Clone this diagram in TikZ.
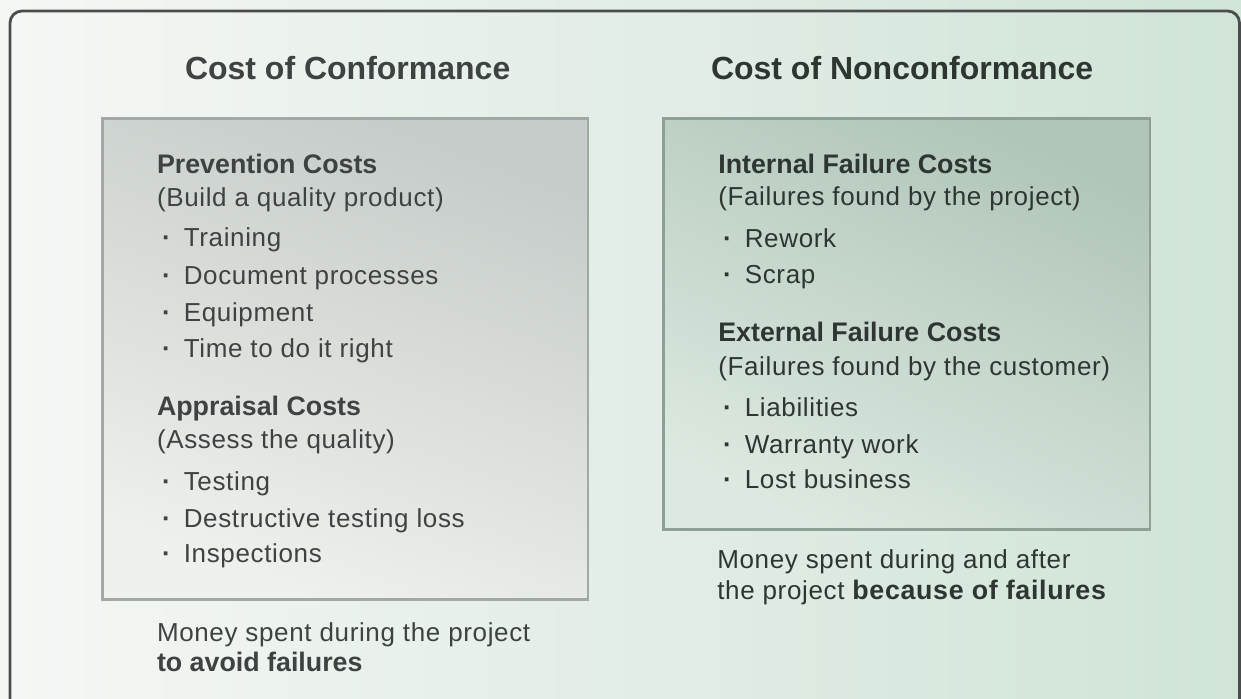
\documentclass[tikz,border=0pt]{standalone}
\usepackage{fontspec}
\setmainfont{Liberation Sans}
\newfontfamily\regfont[LetterSpace=2.5]{Liberation Sans}
\definecolor{bgL}{HTML}{F5F7F5}
\definecolor{bgR}{HTML}{D0E4D7}
\definecolor{frameC}{HTML}{4A4D4B}
\definecolor{lboxT}{HTML}{C6CCC9}
\definecolor{lboxB}{HTML}{EEF1EE}
\definecolor{lboxD}{HTML}{A2A8A5}
\definecolor{rboxT}{HTML}{B1C5B9}
\definecolor{rboxB}{HTML}{DCE9E0}
\definecolor{rboxD}{HTML}{8E9F95}
\definecolor{txtL}{HTML}{3E4240}
\definecolor{txtR}{HTML}{2D3631}
\newcommand{\itm}[1]{\makebox[10.9pt][l]{\bfseries\char"00B7}#1}
\tikzset{
  tx/.style={inner sep=0pt, outer sep=0pt, anchor=base west},
  headL/.style={tx, text=txtL, font=\fontsize{16}{19}\selectfont\bfseries},
  headR/.style={tx, text=txtR, font=\fontsize{16}{19}\selectfont\bfseries},
  subL/.style={tx, text=txtL, font=\fontsize{13.4}{16}\selectfont\bfseries},
  subR/.style={tx, text=txtR, font=\fontsize{13.4}{16}\selectfont\bfseries},
  regL/.style={tx, text=txtL, font=\fontsize{13}{16}\regfont},
  regR/.style={tx, text=txtR, font=\fontsize{13}{16}\regfont},
  frameline/.style={draw=frameC, line width=1.4pt, rounded corners=6pt},
}
\begin{document}
\begin{tikzpicture}[x=0.5pt,y=-0.5pt]
\useasboundingbox (0,0) rectangle (1241,699);
\clip (0,0) rectangle (1241,699);
% background
\shade[left color=bgL, right color=bgR] (0,0) rectangle (1241,699);
% outer frame
\draw[frameline] (10,11) rectangle (1239.5,760);
% boxes
\shade[top color=lboxT, bottom color=lboxB, shading angle=-20] (102.7,118.3) rectangle (588,599.3);
\draw[draw=lboxD, line width=1.3pt] (102.7,118.3) rectangle (588,599.3);
\shade[top color=rboxT, bottom color=rboxB, shading angle=-25] (663.3,118.3) rectangle (1150,529.3);
\draw[draw=rboxD, line width=1.3pt] (663.3,118.3) rectangle (1150,529.3);
% headings
\node[headL] (hl) at (185,80) {Cost of Conformance};
\node[headR] (hr) at (711,80) {Cost of Nonconformance};
% left box
\node[subL] (pc) at (157,173.3) {Prevention Costs};
\node[regL] (pcd) at (157,207) {(Build a quality product)};
\node[regL] (pc1) at (162,246.7) {\itm{Training}};
\node[regL] (pc2) at (162,284.5) {\itm{Document processes}};
\node[regL] (pc3) at (162,321.5) {\itm{Equipment}};
\node[regL] (pc4) at (162,357.3) {\itm{Time to do it right}};
\node[subL] (ac) at (157,415.7) {Appraisal Costs};
\node[regL] (acd) at (157,448.3) {(Assess the quality)};
\node[regL] (ac1) at (162,490.7) {\itm{Testing}};
\node[regL] (ac2) at (162,527.3) {\itm{Destructive testing loss}};
\node[regL] (ac3) at (162,562.7) {\itm{Inspections}};
% left note
\node[regL] (nl1) at (157,641.7) {Money spent during the project};
\node[subL] (nl2) at (157,671.7) {to avoid failures};
% right box
\node[subR] (ic) at (718.3,173.3) {Internal Failure Costs};
\node[regR] (icd) at (718.3,206) {(Failures found by the project)};
\node[regR] (ic1) at (723,247.3) {\itm{Rework}};
\node[regR] (ic2) at (723,283.3) {\itm{Scrap}};
\node[subR] (ec) at (718.3,341.7) {External Failure Costs};
\node[regR] (ecd) at (718.3,375.7) {(Failures found by the customer)};
\node[regR] (ec1) at (723,416.7) {\itm{Liabilities}};
\node[regR] (ec2) at (723,454) {\itm{Warranty work}};
\node[regR] (ec3) at (723,488.3) {\itm{Lost business}};
% right note
\node[regR] (nr1) at (717.3,568.3) {Money spent during and after};
\node[regR] (nr2) at (717.3,599) {the project {\fontsize{13.4}{16}\selectfont\bfseries because of failures}};
\end{tikzpicture}
\end{document}
